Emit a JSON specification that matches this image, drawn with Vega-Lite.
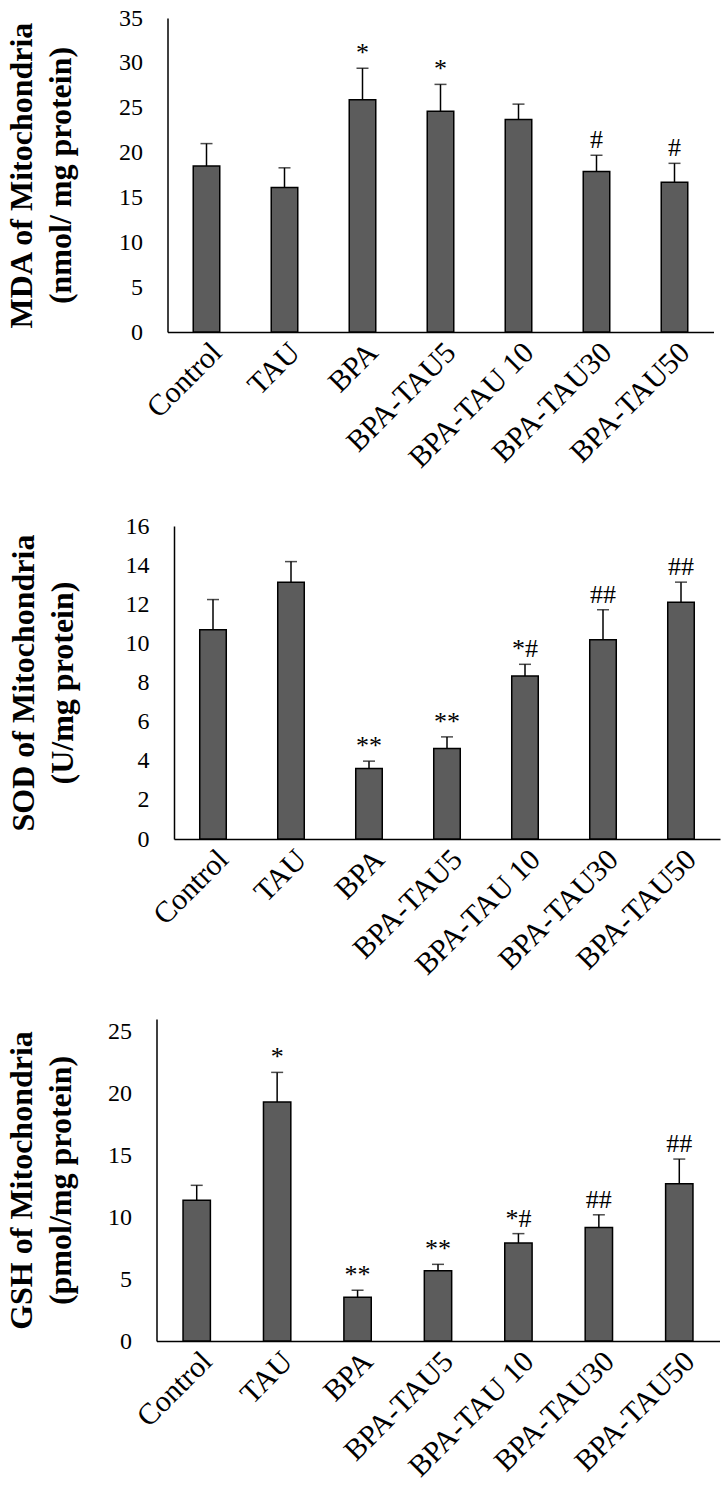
{
  "$schema": "https://vega.github.io/schema/vega-lite/v6.json",
  "padding": {"top": 6, "left": 5.5, "right": 0, "bottom": 0},
  "background": "white",
  "columns": 1,
  "align": "none",
  "spacing": 20,
  "config": {
    "font": "Liberation Serif",
    "view": {"stroke": null},
    "axis": {"grid": false, "ticks": false, "domainColor": "black", "domainWidth": 1.5, "labelColor": "black", "labelFont": "Liberation Serif", "titleFont": "Liberation Serif", "titleColor": "black", "labelOverlap": false},
    "axisX": {"labelAngle": -45, "labelFontSize": 30, "labelPadding": 5, "title": null},
    "axisY": {"labelFontSize": 24, "labelPadding": 25, "titleFontSize": 32, "titleFontWeight": "bold", "titleLineHeight": 39, "minExtent": 50}
  },
  "datasets": {
    "mda": [
      {"group": "Control", "value": 18.5, "upper": 21.0, "sig": ""},
      {"group": "TAU", "value": 16.1, "upper": 18.3, "sig": ""},
      {"group": "BPA", "value": 25.9, "upper": 29.4, "sig": "*"},
      {"group": "BPA-TAU5", "value": 24.6, "upper": 27.6, "sig": "*"},
      {"group": "BPA-TAU 10", "value": 23.7, "upper": 25.4, "sig": ""},
      {"group": "BPA-TAU30", "value": 17.9, "upper": 19.7, "sig": "#"},
      {"group": "BPA-TAU50", "value": 16.7, "upper": 18.8, "sig": "#"}
    ],
    "sod": [
      {"group": "Control", "value": 10.7, "upper": 12.24, "sig": ""},
      {"group": "TAU", "value": 13.13, "upper": 14.18, "sig": ""},
      {"group": "BPA", "value": 3.6, "upper": 3.98, "sig": "**"},
      {"group": "BPA-TAU5", "value": 4.63, "upper": 5.22, "sig": "**"},
      {"group": "BPA-TAU 10", "value": 8.33, "upper": 8.93, "sig": "*#"},
      {"group": "BPA-TAU30", "value": 10.19, "upper": 11.72, "sig": "##"},
      {"group": "BPA-TAU50", "value": 12.1, "upper": 13.13, "sig": "##"}
    ],
    "gsh": [
      {"group": "Control", "value": 11.36, "upper": 12.57, "sig": ""},
      {"group": "TAU", "value": 19.29, "upper": 21.69, "sig": "*"},
      {"group": "BPA", "value": 3.53, "upper": 4.1, "sig": "**"},
      {"group": "BPA-TAU5", "value": 5.67, "upper": 6.19, "sig": "**"},
      {"group": "BPA-TAU 10", "value": 7.92, "upper": 8.67, "sig": "*#"},
      {"group": "BPA-TAU30", "value": 9.16, "upper": 10.19, "sig": "##"},
      {"group": "BPA-TAU50", "value": 12.7, "upper": 14.69, "sig": "##"}
    ]
  },
  "concat": [
    {
      "width": 557, "height": 314,
      "data": {"name": "mda"},
      "resolve": {"axis": {"y": "independent"}},
      "encoding": {
        "x": {"field": "group", "type": "nominal", "sort": null, "scale": {"paddingInner": 0.66, "paddingOuter": 0.33, "range": [11, 557]}, "axis": {"minExtent": 162}}
      },
      "layer": [
        {"mark": {"type": "bar", "fill": "#5c5c5c", "stroke": "black", "strokeWidth": 1.5},
         "encoding": {"y": {"field": "value", "type": "quantitative", "scale": {"domain": [0, 35]}, "axis": {"values": [0,5,10,15,20,25,30,35], "labelOverlap": false, "offset": -11, "title": ["MDA of Mitochondria", "(nmol/ mg protein)"], "titlePadding": 40}}}},
        {"mark": {"type": "rule", "color": "black", "strokeWidth": 1.5},
         "encoding": {"y": {"field": "value", "type": "quantitative", "axis": null}, "y2": {"field": "upper"}}},
        {"mark": {"type": "tick", "color": "black", "thickness": 1.5, "size": 12},
         "encoding": {"y": {"field": "upper", "type": "quantitative", "axis": null}}},
        {"mark": {"type": "text", "fontSize": 26, "baseline": "alphabetic", "dy": -7, "color": "black"},
         "encoding": {"y": {"field": "upper", "type": "quantitative", "axis": null}, "text": {"field": "sig"}}}
      ]
    },
    {
      "width": 564, "height": 313,
      "data": {"name": "sod"},
      "resolve": {"axis": {"y": "independent"}},
      "encoding": {
        "x": {"field": "group", "type": "nominal", "sort": null, "scale": {"paddingInner": 0.66, "paddingOuter": 0.33, "range": [17.5, 563.5]}, "axis": {"minExtent": 160}}
      },
      "layer": [
        {"mark": {"type": "bar", "fill": "#5c5c5c", "stroke": "black", "strokeWidth": 1.5},
         "encoding": {"y": {"field": "value", "type": "quantitative", "scale": {"domain": [0, 16]}, "axis": {"values": [0,2,4,6,8,10,12,14,16], "labelOverlap": false, "offset": -17.5, "title": ["SOD of Mitochondria", "(U/mg protein)"], "titlePadding": 44.5}}}},
        {"mark": {"type": "rule", "color": "black", "strokeWidth": 1.5},
         "encoding": {"y": {"field": "value", "type": "quantitative", "axis": null}, "y2": {"field": "upper"}}},
        {"mark": {"type": "tick", "color": "black", "thickness": 1.5, "size": 12},
         "encoding": {"y": {"field": "upper", "type": "quantitative", "axis": null}}},
        {"mark": {"type": "text", "fontSize": 26, "baseline": "alphabetic", "dy": -7, "color": "black"},
         "encoding": {"y": {"field": "upper", "type": "quantitative", "axis": null}, "text": {"field": "sig"}}}
      ]
    },
    {
      "width": 563, "height": 322,
      "data": {"name": "gsh"},
      "resolve": {"axis": {"y": "independent"}},
      "encoding": {
        "x": {"field": "group", "type": "nominal", "sort": null, "scale": {"paddingInner": 0.66, "paddingOuter": 0.33}}
      },
      "layer": [
        {"mark": {"type": "bar", "fill": "#5c5c5c", "stroke": "black", "strokeWidth": 1.5},
         "encoding": {"y": {"field": "value", "type": "quantitative", "scale": {"domain": [0, 25]}, "axis": {"values": [0,5,10,15,20,25], "labelOverlap": false, "title": ["GSH of Mitochondria", "(pmol/mg protein)"], "titlePadding": 29}}}},
        {"mark": {"type": "rule", "color": "black", "strokeWidth": 1.5},
         "encoding": {"y": {"field": "value", "type": "quantitative", "axis": null}, "y2": {"field": "upper"}}},
        {"mark": {"type": "tick", "color": "black", "thickness": 1.5, "size": 12},
         "encoding": {"y": {"field": "upper", "type": "quantitative", "axis": null}}},
        {"mark": {"type": "text", "fontSize": 26, "baseline": "alphabetic", "dy": -7, "color": "black"},
         "encoding": {"y": {"field": "upper", "type": "quantitative", "axis": null}, "text": {"field": "sig"}}}
      ]
    }
  ]
}
